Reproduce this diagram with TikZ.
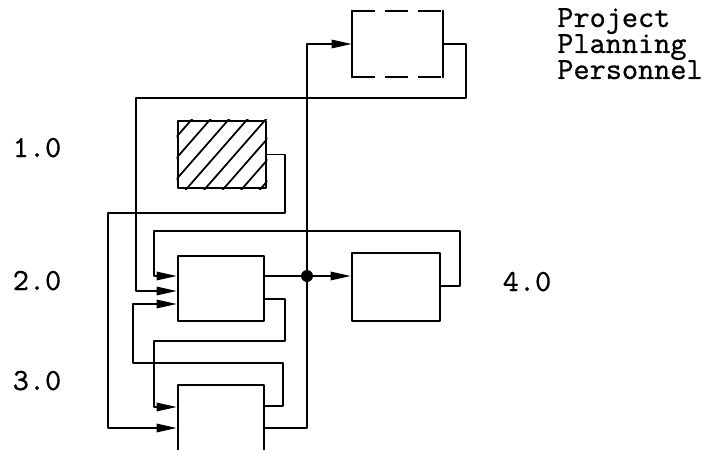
\documentclass[tikz,border=0pt]{standalone}
\usepackage{fontspec}
\newfontfamily\typer[FakeBold=0.6]{lmmono10-regular.otf}
\newcommand\typeface{\typer\fontsize{17.5}{14.8}\selectfont\lineskiplimit=-20pt\relax}
\usetikzlibrary{arrows.meta}

\begin{document}
\begin{tikzpicture}[
    x=0.02cm,
    y=-0.02cm,
    line cap=round,
    line join=round,
    block/.style={
        draw=black,
        line width=1.5pt,
        inner sep=0pt,
        minimum width=1.72cm,
        minimum height=1.30cm
    },
    wire/.style={
        draw=black,
        line width=0.8pt
    },
    feed/.style={
        wire,
        -{Triangle[length=0.4cm,width=0.17cm]}
    },
    hatch/.style={
        line width=1pt
    },
    dot/.style={
        circle,
        fill=black,
        inner sep=0pt,
        minimum size=0.24cm
    },
    lbl/.style={
        font=\typeface,
        inner sep=0pt
    }
]

\useasboundingbox (0,0) rectangle (712,449);
\clip (0,0) rectangle (712,449);

% -------------------------------------------------
% Blocks
% -------------------------------------------------

\node[block, draw=none, minimum width=1.78cm, minimum height=1.28cm] (pers) at (397.5,44) {};
\draw[line width=1.1pt]
    (pers.north west) -- (pers.south west)
    (pers.north east) -- (pers.south east);
\draw[line width=1.1pt, line cap=butt, dash pattern=on 0.46cm off 0.2cm]
    (pers.north west) -- (pers.north east)
    (pers.south west) -- (pers.south east);

\node[block, minimum width=1.76cm, minimum height=1.34cm] (hat) at (222,154.5) {};
\begin{scope}
    \clip (hat.south west) rectangle (hat.north east);
    \foreach \xt in {190,208.5,...,320}
        \draw[hatch] (\xt-60,190) -- (\xt+3,118);
\end{scope}

\node[block] (two) at (221,288.5) {};
\node[block, minimum width=1.76cm, minimum height=1.36cm] (four) at (396,287) {};
\node[block, minimum height=1.6cm] (three) at (221,425) {};

\node[dot] (jn) at (307,276) {};

% -------------------------------------------------
% Connectors
% -------------------------------------------------

% 2.0 and 3.0 out through the junction
\draw[wire] (two.east |- jn) -- (jn);
\draw[feed] (jn) -- (four.west |- jn);
\draw[feed] (jn) -- (jn |- pers.west) -- (pers.west);
\draw[wire] (three.east |- 0,428) -| (jn);

% 1.0 into 3.0
\draw[feed] (hat.east) -| (285,213) -| (108,428) -- (three.west |- 0,428);

% personnel back into 2.0
\draw[feed] (pers.east) -| (466,98) -| (136,291) -- (two.west |- 0,291);

% 4.0 back into 2.0
\draw[feed] (four.east |- 0,286) -| (460,231) -| (154,276) -- (two.west |- 0,276);

% 2.0 into 3.0
\draw[feed] (two.east |- 0,299) -| (285,341) -| (154,407) -- (three.west |- 0,407);

% 3.0 back into 2.0
\draw[feed] (three.east |- 0,406) -| (283,363) -| (133,304) -- (two.west |- 0,304);

% -------------------------------------------------
% Labels
% -------------------------------------------------

\node[lbl, anchor=base] (l1) at (37,157) {1.0};
\node[lbl, anchor=base] (l2) at (37,290) {2.0};
\node[lbl, anchor=base] (l3) at (37,390) {3.0};
\node[lbl, anchor=base] (l4) at (527,291) {4.0};
\node[lbl, anchor=base west, align=left] (ppp) at (557,79) {Project\\Planning\\Personnel};

\end{tikzpicture}
\end{document}
